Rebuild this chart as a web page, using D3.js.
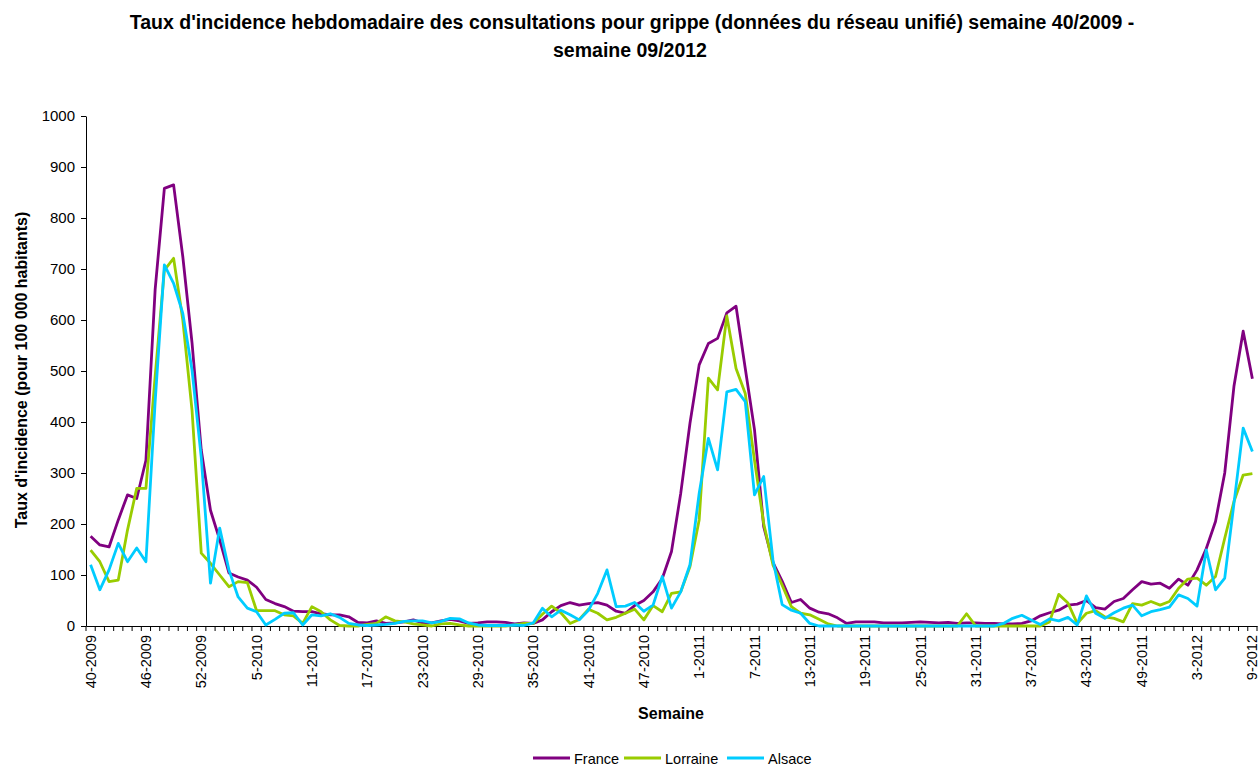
<!DOCTYPE html>
<html>
<head>
<meta charset="utf-8">
<script src="https://cdn.jsdelivr.net/npm/d3@7"></script>
<style>
  body { margin: 0; background: #fff; }
  svg { display: block; font-family: "Liberation Sans", Arial, sans-serif; }
  .title { font-weight: bold; font-size: 19.5px; fill: #000; }
  .axis text { fill: #000; }
  .yaxis text { font-size: 15px; }
  .xlabels text { font-size: 14.5px; }
  .axis path, .axis line { stroke: #000; }
  .axis-title { font-weight: bold; font-size: 16px; }
  .legend text { font-size: 14.5px; }
</style>
</head>
<body>
<svg id="chart" width="1260" height="768"></svg>
<script>
// weeks: 40..53 of 2009, 1..52 of 2010, 1..52 of 2011, 1..9 of 2012
const yearSpans = [[2009, 40, 53], [2010, 1, 52], [2011, 1, 52], [2012, 1, 9]];
const weeks = [];
yearSpans.forEach(([yr, a, b]) => { for (let w = a; w <= b; w++) weeks.push(w + "-" + yr); });

const france = [
  176, 159, 155, 208, 257, 250, 325, 660, 858, 865, 724, 555, 345, 227, 169, 104, 96, 90,
  76, 52, 44, 38, 29, 28, 28, 24, 22, 22, 18, 7, 6, 10, 5, 6, 8, 12, 6, 6, 10, 13, 10, 5,
  6, 8, 8, 7, 4, 6, 5, 12, 28, 40, 46, 41, 44, 46, 41, 29, 25, 40, 50, 67, 93, 146, 260, 397,
  512, 554, 564, 614, 627, 505, 385, 195, 125, 88, 46, 52, 35, 27, 24, 16, 5, 8, 8, 8, 6, 6,
  6, 7, 8, 7, 6, 7, 5, 6, 6, 5, 5, 4, 4, 5, 10, 20, 26, 31, 41, 43, 50, 36, 33, 48, 54, 71,
  87, 82, 84, 74, 92, 80, 110, 152, 205, 300, 470, 578, 485
];
const lorraine = [
  149, 126, 87, 90, 188, 270, 270, 490, 698, 721, 600, 423, 143, 123, 100, 77, 87, 85,
  30, 30, 30, 22, 20, 5, 38, 28, 12, 1, 0, 0, 3, 5, 18, 10, 8, 4, 2, 0, 4, 5, 2, 0,
  0, 0, 0, 0, 2, 5, 5, 23, 39, 26, 5, 13, 33, 25, 12, 17, 25, 33, 12, 40, 28, 64, 67, 116,
  208, 486, 463, 608, 505, 456, 325, 201, 120, 80, 38, 25, 22, 13, 4, 0, 0, 0, 0, 0, 0, 0,
  0, 0, 0, 0, 0, 0, 0, 24, 0, 0, 0, 0, 0, 0, 0, 0, 8, 62, 45, 5, 25, 30, 18, 15, 8, 44,
  41, 48, 41, 48, 74, 92, 94, 80, 97, 172, 244, 296, 299
];
const alsace = [
  120, 71, 110, 162, 126, 153, 126, 440, 708, 672, 613, 502, 330, 84, 192, 110, 57, 35,
  28, 2, 13, 25, 26, 2, 22, 20, 24, 17, 5, 2, 1, 2, 3, 5, 9, 10, 10, 6, 9, 15, 14, 6,
  2, 1, 1, 1, 2, 1, 6, 35, 18, 31, 22, 12, 31, 64, 110, 38, 39, 46, 29, 41, 97, 35, 67, 120,
  260, 368, 306, 459, 464, 440, 257, 293, 130, 42, 31, 25, 5, 0, 0, 0, 0, 0, 0, 0, 0, 0,
  0, 0, 0, 0, 0, 0, 0, 0, 0, 0, 0, 5, 15, 21, 12, 3, 14, 10, 17, 2, 59, 25, 15, 26, 35, 41,
  20, 28, 32, 37, 61, 54, 39, 149, 71, 94, 240, 388, 342
];
const seriesNames = ["France", "Lorraine", "Alsace"];
const seriesColors = ["#800080", "#99CC00", "#00CCFF"];
const yTicks = [0, 100, 200, 300, 400, 500, 600, 700, 800, 900, 1000];

const svg = d3.select("#chart");
const plotLeft = 86, plotRight = 1257, plotTop = 116, plotBottom = 626;

const x = d3.scaleBand().domain(weeks).range([plotLeft, plotRight]).padding(0);
const y = d3.scaleLinear().domain([0, 1000]).range([plotBottom, plotTop]);
const cx = w => x(w) + x.bandwidth() / 2;

// title
svg.append("text").attr("class", "title").attr("x", 632).attr("y", 29)
  .attr("text-anchor", "middle")
  .text("Taux d'incidence hebdomadaire des consultations pour grippe (données du réseau unifié) semaine 40/2009 -");
svg.append("text").attr("class", "title").attr("x", 630).attr("y", 57)
  .attr("text-anchor", "middle").text("semaine 09/2012");

// y axis
svg.append("g").attr("class", "axis yaxis").attr("transform", `translate(${plotLeft},0)`)
  .call(d3.axisLeft(y).tickValues(yTicks).tickFormat(d3.format("d"))
    .tickSize(5).tickPadding(6).tickSizeOuter(0));

// x axis: tick marks on category boundaries
const xg = svg.append("g").attr("class", "axis").attr("transform", `translate(0,${plotBottom})`)
  .call(d3.axisBottom(x).tickSize(5).tickFormat("").tickSizeOuter(0));
xg.selectAll(".tick line").attr("x1", -x.bandwidth() / 2).attr("x2", -x.bandwidth() / 2);
xg.append("line").attr("x1", plotRight).attr("x2", plotRight).attr("y1", 0).attr("y2", 5).attr("stroke", "#000");

// x labels every 6th week
const labelWeeks = weeks.filter((w, i) => i % 6 === 0);
const xl = svg.append("g").attr("class", "axis xlabels").attr("transform", `translate(0,${plotBottom})`)
  .call(d3.axisBottom(x).tickValues(labelWeeks).tickSize(0));
xl.select(".domain").remove();
xl.selectAll("text")
  .attr("transform", "rotate(-90)")
  .attr("text-anchor", "end")
  .attr("x", -9).attr("y", 0).attr("dy", "0.35em");

// axis titles
svg.append("text").attr("class", "axis-title").attr("x", 671).attr("y", 719)
  .attr("text-anchor", "middle").text("Semaine");
svg.append("text").attr("class", "axis-title")
  .attr("transform", "translate(27,370) rotate(-90)")
  .attr("text-anchor", "middle").text("Taux d'incidence (pour 100 000 habitants)");

// lines
const allSeries = [france, lorraine, alsace];
const line = d3.line().x((d, i) => cx(weeks[i])).y(d => y(d));
allSeries.forEach((s, k) => {
  svg.append("path").datum(s)
    .attr("fill", "none")
    .attr("stroke", seriesColors[k])
    .attr("stroke-width", 2.8)
    .attr("stroke-linejoin", "round")
    .attr("d", line);
});

// legend
const legendX = [533, 624, 727];
const lg = svg.append("g").attr("class", "legend");
seriesNames.forEach((n, k) => {
  lg.append("line").attr("x1", legendX[k]).attr("x2", legendX[k] + 37)
    .attr("y1", 758).attr("y2", 758)
    .attr("stroke", seriesColors[k]).attr("stroke-width", 2.8);
  lg.append("text").attr("x", legendX[k] + 41).attr("y", 764).text(n);
});
</script>
</body>
</html>
